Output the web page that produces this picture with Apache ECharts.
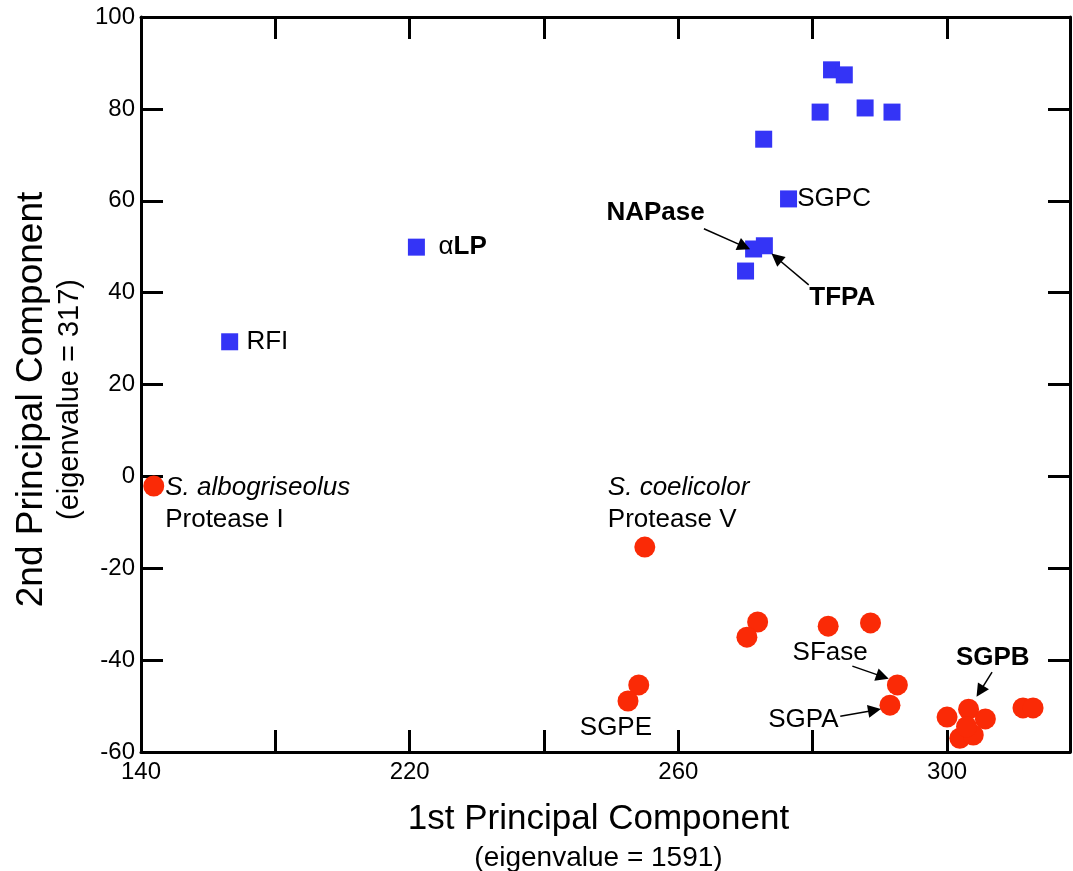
<!doctype html>
<html>
<head>
<meta charset="utf-8" />
<script src="https://cdn.jsdelivr.net/npm/echarts@6/dist/echarts.min.js"></script>
<style>
  html, body { margin: 0; padding: 0; background: #fff; }
  #chart { width: 1073px; height: 871px; }
</style>
</head>
<body>
<div id="chart"></div>
<script>
// blue group (squares): [PC1, PC2]
const bluePoints = [
  [282.8, 88.5], [284.7, 87.4], [281.1, 79.3], [287.8, 80.2], [291.8, 79.3],
  [272.7, 73.4], [276.4, 60.4], [271.2, 49.5], [272.8, 50.2], [270.0, 44.7],
  [221.0, 49.9], [193.2, 29.3]
];
// red group (circles)
const redPoints = [
  [181.9, -2.1], [255.0, -15.4], [271.8, -31.7], [270.2, -35.0], [282.3, -32.6],
  [288.6, -31.9], [292.6, -45.4], [291.5, -49.8], [254.1, -45.4], [252.5, -48.9],
  [300.0, -52.4], [303.2, -50.7], [305.7, -52.8], [301.9, -57.0], [303.9, -56.3],
  [302.9, -54.5], [311.3, -50.4], [312.8, -50.4]
];
// text annotations: [text, x, y, anchor]
const labels = [
  ['{n|SGPC}', 277.7, 60.4, 'left'],
  ['{n|α}{b|LP}', 224.3, 49.9, 'left'],
  ['{n|RFI}', 195.7, 29.3, 'left'],
  ['{b|NAPase}', 256.6, 57.3, 'center'],
  ['{b|TFPA}', 284.4, 38.8, 'center'],
  ['{n|SFase}', 282.6, -38.4, 'center'],
  ['{n|SGPA}', 278.6, -53.0, 'center'],
  ['{n|SGPE}', 250.7, -54.8, 'center'],
  ['{b|SGPB}', 306.8, -39.5, 'center'],
  ['{i|S. albogriseolus}\n{n|Protease I}', 183.6, -6.0, 'left'],
  ['{i|S. coelicolor}\n{n|Protease V}', 249.5, -6.0, 'left']
];
// arrows: [fromX, fromY, toX, toY]
const arrows = [
  [263.8, 53.9, 269.8, 50.0],
  [279.4, 41.7, 274.6, 47.6],
  [285.9, -41.3, 290.4, -43.6],
  [284.1, -52.2, 289.2, -50.9],
  [306.7, -42.6, 304.9, -46.8]
];
const xLabelShown = { 180: '140', 220: '220', 260: '260', 300: '300' };

const font = 'Arial, "Liberation Sans", Helvetica, sans-serif';
const rich = {
  n: { fontSize: 26, fontFamily: font, color: '#000', lineHeight: 32 },
  b: { fontSize: 26, fontFamily: font, color: '#000', fontWeight: 'bold', lineHeight: 32 },
  i: { fontSize: 26, fontFamily: font, color: '#000', fontStyle: 'italic', lineHeight: 32 }
};

const axisLine = { show: true, onZero: false, lineStyle: { color: '#000', width: 3 } };
const axisTick = { show: true, inside: true, length: 22, lineStyle: { color: '#000', width: 3 } };

const chart = echarts.init(document.getElementById('chart'));
chart.setOption({
  animation: false,
  backgroundColor: '#fff',
  grid: { left: 141, right: 3, top: 17, bottom: 119, outerBoundsMode: 'none', containLabel: false },
  xAxis: [
    {
      type: 'value', position: 'bottom', min: 180, max: 318.3, interval: 20,
      axisLine, axisTick, splitLine: { show: false },
      axisLabel: {
        showMaxLabel: false, margin: 8, fontSize: 24, fontFamily: font, color: '#000',
        formatter: v => xLabelShown[v] || ''
      },
      name: '{a|1st Principal Component}\n{b|(eigenvalue = 1591)}',
      nameLocation: 'middle', nameGap: 47,
      nameTextStyle: {
        padding: [0, 14, 0, 0],
        rich: {
          a: { fontSize: 35, fontFamily: font, color: '#000', lineHeight: 40 },
          b: { fontSize: 28, fontFamily: font, color: '#000', lineHeight: 38 }
        }
      }
    },
    {
      type: 'value', position: 'top', min: 180, max: 318.3, interval: 20,
      axisLine, axisTick, axisLabel: { show: false }, splitLine: { show: false }
    }
  ],
  yAxis: [
    {
      type: 'value', position: 'left', min: -60, max: 100, interval: 20,
      axisLine, axisTick, splitLine: { show: false },
      axisLabel: { margin: 6, fontSize: 24, fontFamily: font, color: '#000' },
      name: '{a|2nd Principal Component}\n{b|(eigenvalue = 317)}',
      nameLocation: 'middle', nameGap: 53, nameRotate: 90,
      nameTextStyle: {
        padding: [0, 30, 0, 0],
        rich: {
          a: { fontSize: 37, fontFamily: font, color: '#000', lineHeight: 42 },
          b: { fontSize: 29, fontFamily: font, color: '#000', lineHeight: 34 }
        }
      }
    },
    {
      type: 'value', position: 'right', min: -60, max: 100, interval: 20,
      axisLine, axisTick, axisLabel: { show: false }, splitLine: { show: false }
    }
  ],
  series: [
    {
      type: 'scatter', data: bluePoints, symbol: 'rect', symbolSize: 17,
      itemStyle: { color: '#3434f6', opacity: 1 }, z: 3
    },
    {
      type: 'scatter', data: redPoints, symbol: 'circle', symbolSize: 21,
      itemStyle: { color: '#fa2a06', opacity: 1 }, z: 3
    },
    {
      type: 'lines', coordinateSystem: 'cartesian2d', z: 4,
      symbol: ['none', 'triangle'], symbolSize: [10, 13],
      lineStyle: { color: '#000', width: 1.5, opacity: 1 },
      data: arrows.map(a => ({ coords: [[a[0], a[1]], [a[2], a[3]]] }))
    },
    {
      type: 'scatter', symbolSize: 0, z: 5, silent: true,
      itemStyle: { opacity: 1 },
      data: labels.map(l => ({
        value: [l[1], l[2]],
        label: {
          show: true, formatter: l[0], rich, color: '#000',
          position: l[3] === 'left' ? 'right' : 'inside',
          distance: 0, align: l[3] === 'left' ? 'left' : 'center'
        }
      }))
    }
  ]
});
</script>
</body>
</html>
